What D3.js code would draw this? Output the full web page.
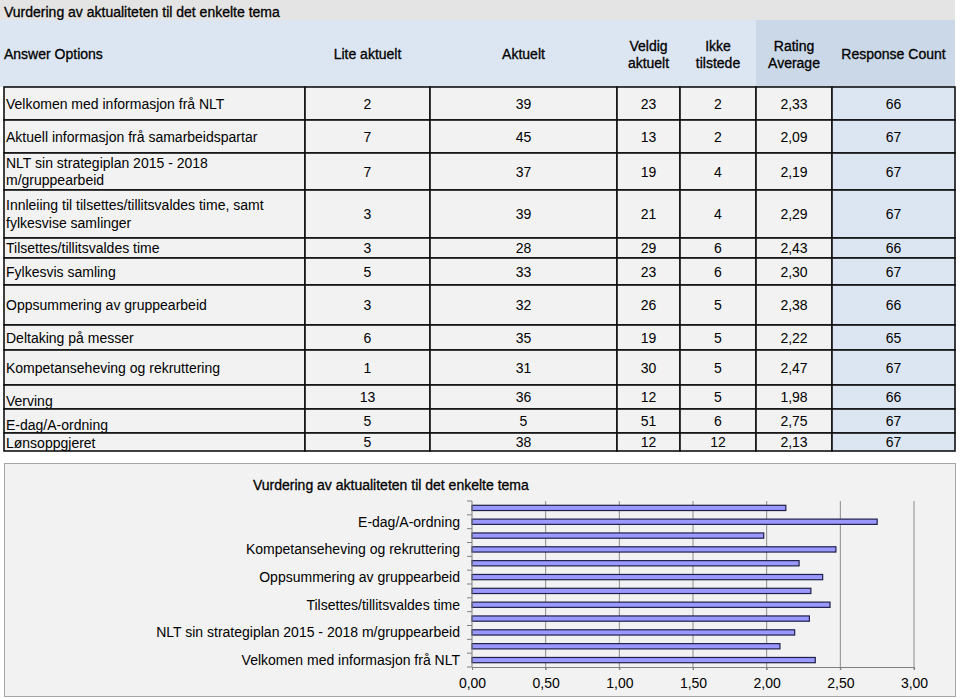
<!DOCTYPE html>
<html>
<head>
<meta charset="utf-8">
<script src="https://cdn.jsdelivr.net/npm/d3@7"></script>
<style>
  body { margin: 0; background: #fff; }
  text { font-family: "Liberation Sans", Arial, sans-serif; font-size: 14px; fill: #000; }
</style>
</head>
<body>
<div id="svgbody"></div>
<script>
const tableTitle = "Vurdering av aktualiteten til det enkelte tema";
const columnHeaders = ["Answer Options", "Lite aktuelt", "Aktuelt", "Veldig aktuelt", "Ikke tilstede", "Rating Average", "Response Count"];
const topics = [
    "Velkomen med informasjon frå NLT",
    "Aktuell informasjon frå samarbeidspartar",
    "NLT sin strategiplan 2015 - 2018 m/gruppearbeid",
    "Innleiing til tilsettes/tillitsvaldes time, samt fylkesvise samlinger",
    "Tilsettes/tillitsvaldes time",
    "Fylkesvis samling",
    "Oppsummering av gruppearbeid",
    "Deltaking på messer",
    "Kompetanseheving og rekruttering",
    "Verving",
    "E-dag/A-ordning",
    "Lønsoppgjeret"
];
const liteAktuelt   = [2, 7, 7, 3, 3, 5, 3, 6, 1, 13, 5, 5];
const aktuelt       = [39, 45, 37, 39, 28, 33, 32, 35, 31, 36, 5, 38];
const veldigAktuelt = [23, 13, 19, 21, 29, 23, 26, 19, 30, 12, 51, 12];
const ikkeTilstede  = [2, 2, 4, 4, 6, 6, 5, 5, 5, 5, 6, 12];
const ratingAverage = [2.33, 2.09, 2.19, 2.29, 2.43, 2.30, 2.38, 2.22, 2.47, 1.98, 2.75, 2.13];
const responseCount = [66, 67, 67, 67, 66, 67, 66, 65, 67, 66, 67, 67];
const xTicks = [0, 0.5, 1, 1.5, 2, 2.5, 3];

// layout of the spreadsheet grid
const colEdges = [4, 305, 430, 617, 680, 756, 832, 955];
const rowEdges = [87, 120, 153, 190, 238, 258, 285, 325, 350, 385, 409, 433, 451];
const bottomAligned = 9; // rows from here have their label sitting low in the cell

const fmt = d3.format(".2f");
const comma = v => fmt(v).replace(".", ",");

const svg = d3.select('#svgbody').append('svg').attr('width', 960).attr('height', 699);

// wraps text into lines that fit width, using a hidden measuring text
const measure = svg.append('text').attr('visibility', 'hidden');
function wrap(str, width) {
    let words = str.split(' '), lines = [], cur = '';
    for (let w of words) {
        let test = cur ? cur + ' ' + w : w;
        measure.text(test);
        if (cur && measure.node().getComputedTextLength() > width) {
            lines.push(cur);
            cur = w;
        } else {
            cur = test;
        }
    }
    lines.push(cur);
    return lines;
}

// title row + header
svg.append('rect').attr('x', 0).attr('y', 0).attr('width', 955).attr('height', 20).attr('fill', '#e4e4e4');
svg.append('text').attr('x', 4).attr('y', 17).text(tableTitle)
    .style('stroke', '#000').style('stroke-width', 0.3);

svg.append('rect').attr('x', 0).attr('y', 20).attr('width', colEdges[5]).attr('height', 67).attr('fill', '#dce6f3');
svg.append('rect').attr('x', colEdges[5]).attr('y', 20).attr('width', colEdges[7] - colEdges[5]).attr('height', 67).attr('fill', '#cad8e8');

columnHeaders.forEach((h, c) => {
    let w = colEdges[c + 1] - colEdges[c];
    let lines = c == 0 ? [h] : wrap(h, w - 10);
    let cy = 54;
    let t = svg.append('text')
        .attr('x', c == 0 ? 4 : colEdges[c] + w / 2)
        .attr('text-anchor', c == 0 ? 'start' : 'middle')
        .style('stroke', '#000').style('stroke-width', 0.3);
    lines.forEach((l, k) => {
        t.append('tspan')
            .attr('x', c == 0 ? 4 : colEdges[c] + w / 2)
            .attr('y', cy + 5 + (k - (lines.length - 1) / 2) * 17)
            .text(l);
    });
});

// data rows
const rows = topics.map((t, i) => ({
    cells: [t, liteAktuelt[i], aktuelt[i], veldigAktuelt[i], ikkeTilstede[i], comma(ratingAverage[i]), responseCount[i]],
    y0: rowEdges[i],
    y1: rowEdges[i + 1],
    low: i >= bottomAligned
}));

rows.forEach(r => {
    r.cells.forEach((v, c) => {
        svg.append('rect')
            .attr('x', colEdges[c]).attr('y', r.y0)
            .attr('width', colEdges[c + 1] - colEdges[c]).attr('height', r.y1 - r.y0)
            .attr('fill', c == 6 ? '#dce6f3' : '#f2f2f2')
            .attr('stroke', '#111').attr('stroke-width', 1.6);
    });
    let cy = (r.y0 + r.y1) / 2;
    let lines = wrap(r.cells[0], colEdges[1] - colEdges[0] - 6);
    let t = svg.append('text');
    lines.forEach((l, k) => {
        let y = r.low ? r.y1 - 3.5 : cy + 5 + (k - (lines.length - 1) / 2) * 17.5;
        t.append('tspan').attr('x', 6).attr('y', y).text(l);
    });
    r.cells.slice(1).forEach((v, k) => {
        let c = k + 1;
        svg.append('text')
            .attr('x', (colEdges[c] + colEdges[c + 1]) / 2)
            .attr('y', cy + 5)
            .attr('text-anchor', 'middle')
            .text(v);
    });
});

// chart box
svg.append('rect').attr('x', 4.5).attr('y', 463.5).attr('width', 951).attr('height', 233)
    .attr('fill', '#f2f2f2').attr('stroke', '#a6a6a6');
svg.append('text').attr('x', 253).attr('y', 490).text(tableTitle)
    .style('stroke', '#000').style('stroke-width', 0.3);

const x = d3.scaleLinear().domain([0, 3]).range([472, 914]);
const y = d3.scaleBand().domain(topics.slice().reverse()).range([501, 667]).paddingInner(0.62).paddingOuter(0.31);
const yEdges = d3.scaleBand().domain(topics.slice().reverse()).range([501, 667]);

// grid
svg.append('g').selectAll('line').data(xTicks.slice(1)).enter().append('line')
    .attr('x1', d => x(d)).attr('x2', d => x(d))
    .attr('y1', 501).attr('y2', 670)
    .attr('stroke', '#8c8c8c').attr('stroke-width', 1);

// bars
svg.append('g').selectAll('rect').data(topics).enter().append('rect')
    .attr('x', x(0))
    .attr('y', d => y(d))
    .attr('width', (d, i) => x(ratingAverage[i]) - x(0))
    .attr('height', y.bandwidth())
    .attr('fill', '#9999ff')
    .attr('stroke', '#20204a').attr('stroke-width', 1.2);

// y axis with ticks at band edges
svg.append('line').attr('x1', 472).attr('x2', 472).attr('y1', 501).attr('y2', 667).attr('stroke', '#808080');
svg.append('g').selectAll('line').data(topics.concat([null])).enter().append('line')
    .attr('x1', 467).attr('x2', 472)
    .attr('y1', (d, i) => 501 + i * yEdges.step())
    .attr('y2', (d, i) => 501 + i * yEdges.step())
    .attr('stroke', '#808080');
svg.append('g').selectAll('text').data(topics.filter((d, i) => i % 2 == 0)).enter().append('text')
    .attr('x', 460)
    .attr('y', d => y(d) + y.bandwidth() / 2 + 5)
    .attr('text-anchor', 'end')
    .text(d => d);

// x axis
const xAxis = svg.append('g').attr('transform', 'translate(0,667)')
    .call(d3.axisBottom(x).tickValues(xTicks).tickSize(3).tickPadding(8).tickFormat(comma));
xAxis.select('.domain').attr('stroke', '#808080');
xAxis.selectAll('.tick line').attr('stroke', '#808080');
xAxis.selectAll('text').style('font-size', '14px').attr('fill', '#000');
</script>
</body>
</html>
